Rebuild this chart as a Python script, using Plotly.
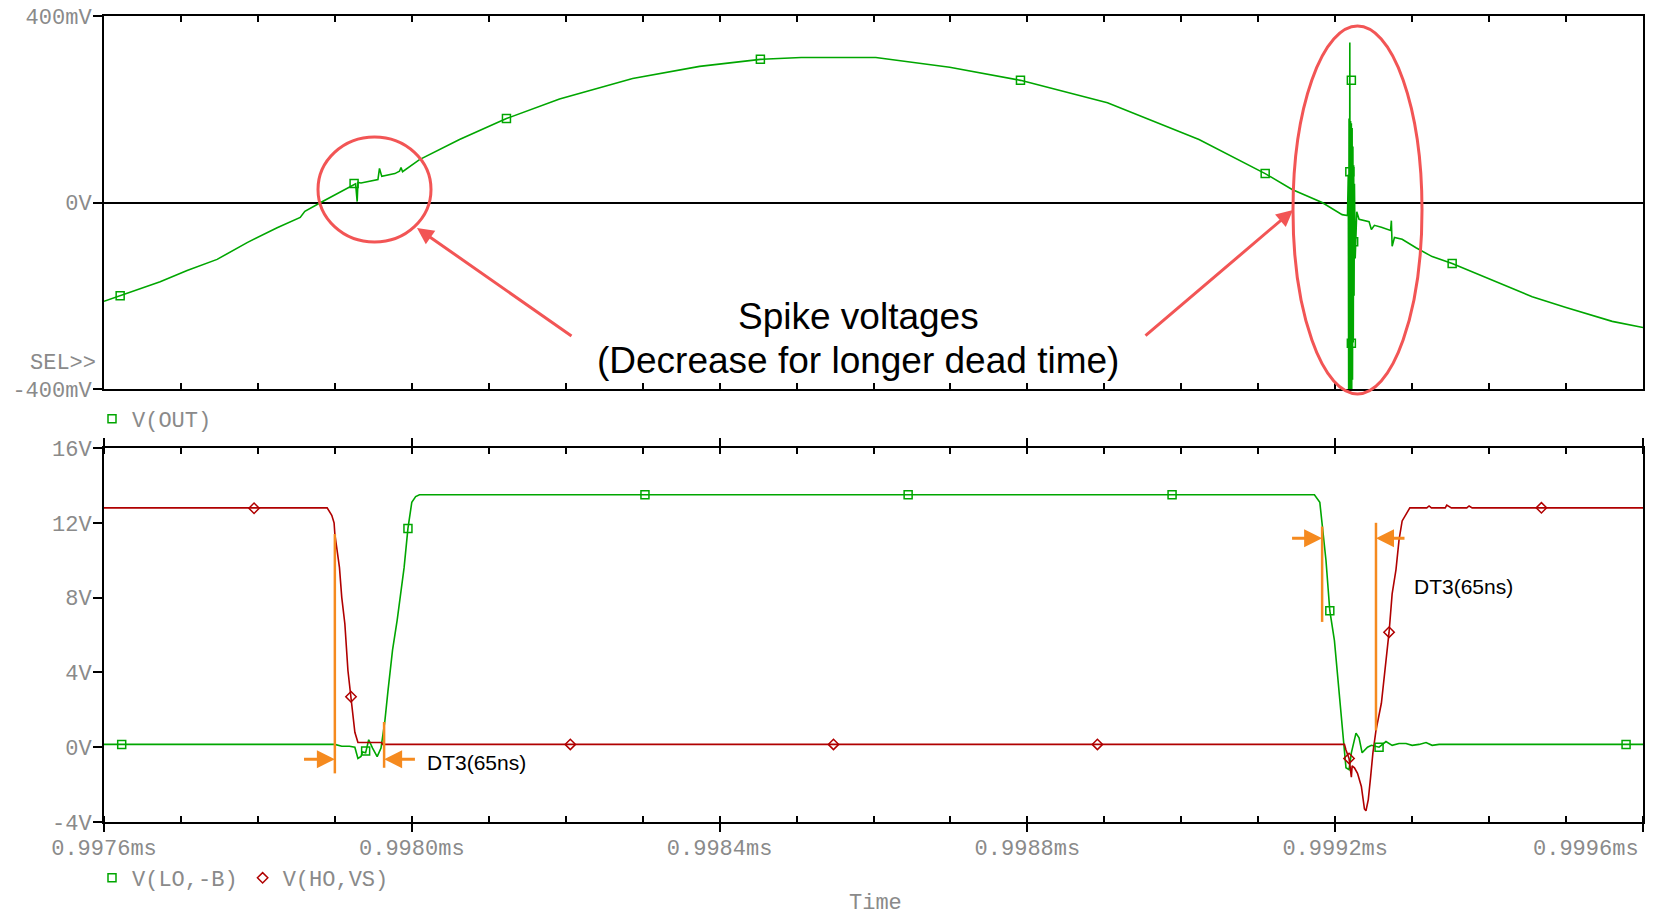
import plotly.graph_objects as go

# ---------------- data (time in ns, absolute) ----------------
out_t = [997600, 997621, 997660, 997673, 997708, 997747, 997786, 997825, 997855, 997861,
         997884, 997906, 997925,
         997927, 997929, 997930, 997934, 997945, 997956, 997958, 997961, 997978, 997984,
         997986, 997988, 998010, 998062, 998123, 998192, 998287, 998374, 998453, 998506,
         998603, 998699, 998791, 998904, 999023, 999066, 999109, 999144, 999183, 999209,
         999216, 999217, 999217.5, 999218, 999218.5, 999219, 999219.5, 999220, 999220.5,
         999221, 999221.5, 999222, 999222.5, 999223, 999223.5, 999224, 999224.5, 999225,
         999226, 999228, 999231, 999244, 999247, 999251, 999260, 999272, 999273, 999274,
         999277, 999287, 999305, 999326, 999352, 999396, 999456, 999500, 999560, 999600]
out_mv = [-212, -200, -178, -170, -146, -122, -86, -54, -32, -19,
          2, 22, 39,
          40, 2, 43, 42, 45, 49, 73, 56, 62, 67,
          75, 66, 92, 135, 180, 222, 266, 292, 307, 311,
          311, 290, 262, 214, 135, 99, 62, 28, 0, -26,
          -28, 60, -400, 180, -400, 343, -400, 175, -400,
          170, -400, 160, -380, 120, -300, 80, -200, 40,
          -120, -20, -36, -41, -58, -49, -53, -60, -39, -94,
          -75, -79, -97, -116, -131, -161, -202, -225, -255, -268]
out_mk_t = [997621, 997925, 998123, 998453, 998791, 999109, 999221, 999219, 999224, 999221, 999352]
out_mk_mv = [-200, 41, 180, 307, 262, 62, 262, 66, -84, -302, -131]

lo_t = [997600, 997900, 997909, 997919, 997926, 997930, 997934, 997936, 997940, 997944,
        997949, 997955, 997960, 997965, 997969, 997975, 997981, 997990, 997995, 998000,
        998005, 998010, 999173, 999180, 999188, 999193, 999199, 999209, 999214, 999218,
        999221, 999227, 999231, 999235, 999242, 999247, 999257, 999266, 999274, 999283,
        999292, 999300, 999309, 999318, 999326, 999335, 999600]
lo_v = [0.15, 0.15, 0.05, 0.05, 0.0, -0.6, -0.5, -0.25, -0.3, 0.4,
        -0.05, -0.5, -0.05, 1.4, 3.0, 5.2, 6.8, 9.6, 11.7, 13.1,
        13.4, 13.5, 13.5, 13.1, 10.0, 7.3, 5.7, 1.4, -1.1, -1.2,
        -0.3, 0.75, 0.5, -0.3, 0.0, 0.1, 0.0, 0.3, 0.1, 0.2,
        0.2, 0.1, 0.15, 0.25, 0.1, 0.15, 0.15]
lo_mk_t = [997623, 997940, 997995, 998303, 998645, 998988, 999193, 999257, 999578]
lo_mk_v = [0.15, -0.2, 11.7, 13.5, 13.5, 13.5, 7.3, 0.0, 0.15]

ho_t = [997600, 997890, 997896, 997899, 997900, 997903, 997906, 997909, 997913, 997917,
        997921, 997926, 997930, 997961, 997962, 999212, 999214, 999218, 999221, 999222,
        999225, 999229, 999234, 999238, 999240, 999243, 999246, 999249, 999253, 999260,
        999270, 999274, 999279, 999283, 999287, 999297, 999319, 999322, 999325, 999343,
        999345, 999351, 999371, 999374, 999378, 999600]
ho_v = [12.8, 12.8, 12.4, 12.0, 11.4, 10.4, 9.6, 8.0, 6.6, 4.1,
        2.7, 0.8, 0.25, 0.25, 0.15, 0.15, -0.15, -0.6, -1.6, -1.0,
        -1.1, -1.4, -2.1, -3.3, -3.4, -2.8, -1.6, -0.3, 0.9, 2.35,
        6.15, 8.2, 9.5, 11.1, 12.1, 12.8, 12.8, 12.9, 12.8, 12.8,
        12.95, 12.8, 12.8, 12.9, 12.8, 12.8]
ho_mk_t = [997795, 997921, 998206, 998548, 998891, 999218, 999270, 999468]
ho_mk_v = [12.78, 2.7, 0.15, 0.15, 0.15, -0.6, 6.15, 12.8]

x_tickvals = [997600, 998000, 998400, 998800, 999200, 999600]
x_ticktext = ["0.9976ms", "0.9980ms", "0.9984ms", "0.9988ms", "0.9992ms", "0.9996ms"]
top_tickvals = [-400, 0, 400]
top_ticktext = ["-400mV", "0V", "400mV"]
bot_tickvals = [-4, 0, 4, 8, 12, 16]
bot_ticktext = ["-4V", "0V", "4V", "8V", "12V", "16V"]

# dead-time markers (ns, V)
dt_left = [997900, 997964]
dt_right = [999183, 999253]

# ---------------- style ----------------
W, H = 1655, 917
GREEN = "#00A600"
RED = "#B00000"
ORANGE = "#F58A1F"
PINK = "#F25555"
GRAY = "#8a8a8a"
MONO = "Liberation Mono"
SANS = "Liberation Sans"


def px(x):
    return x / W


def py(y):
    return 1 - y / H


fig = go.Figure()
fig.add_trace(go.Scatter(x=out_t, y=out_mv, mode="lines", line=dict(color=GREEN, width=1.6),
                         showlegend=False, xaxis="x", yaxis="y", hoverinfo="skip"))
fig.add_trace(go.Scatter(x=out_mk_t, y=out_mk_mv, mode="markers", name="V(OUT)",
                         marker=dict(symbol="square-open", size=8, color=GREEN, line=dict(width=1.5)),
                         xaxis="x", yaxis="y", legend="legend"))
fig.add_trace(go.Scatter(x=lo_t, y=lo_v, mode="lines", line=dict(color=GREEN, width=1.6),
                         showlegend=False, xaxis="x2", yaxis="y2"))
fig.add_trace(go.Scatter(x=ho_t, y=ho_v, mode="lines", line=dict(color=RED, width=1.6),
                         showlegend=False, xaxis="x2", yaxis="y2"))
fig.add_trace(go.Scatter(x=lo_mk_t, y=lo_mk_v, mode="markers", name="V(LO,-B)",
                         marker=dict(symbol="square-open", size=8, color=GREEN, line=dict(width=1.5)),
                         xaxis="x2", yaxis="y2", legend="legend2"))
fig.add_trace(go.Scatter(x=ho_mk_t, y=ho_mk_v, mode="markers", name="V(HO,VS)",
                         marker=dict(symbol="diamond-open", size=8, color=RED, line=dict(width=1.5)),
                         xaxis="x2", yaxis="y2", legend="legend2"))

xdom = [px(104), px(1643)]
tickfont = dict(family=MONO, size=22, color=GRAY)
common_x = dict(domain=xdom, range=[997600, 999600], showline=True, linecolor="black", linewidth=2,
                mirror="ticks", showgrid=False, zeroline=False, tickcolor="black", tickwidth=1.5,
                automargin=False)

fig.update_layout(
    template="none",
    width=W, height=H, margin=dict(l=0, r=0, t=0, b=0, autoexpand=False),
    paper_bgcolor="white", plot_bgcolor="white",
    xaxis=dict(**common_x, anchor="y", ticks="inside", ticklen=6, dtick=100, tick0=997600,
               showticklabels=False),
    yaxis=dict(domain=[py(389), py(16)], range=[-400, 400], anchor="x", showline=True,
               linecolor="black", linewidth=2, mirror=True, showgrid=False, automargin=False,
               zeroline=True, zerolinecolor="black", zerolinewidth=1.5,
               ticks="outside", ticklen=9, tickcolor="black", tickwidth=1.5, ticklabelstandoff=-3,
               tickvals=top_tickvals, ticktext=top_ticktext, tickfont=tickfont),
    xaxis2=dict(**common_x, anchor="y2", ticks="outside", ticklen=8, tickvals=x_tickvals,
                ticktext=x_ticktext[:-1] + [""], tickfont=tickfont, ticklabelstandoff=-3,
                minor=dict(ticks="inside", ticklen=6, dtick=100, tick0=997600,
                           tickcolor="black", tickwidth=1.5, showgrid=False)),
    yaxis2=dict(domain=[py(822), py(448)], range=[-4, 16], anchor="x2", showline=True,
                linecolor="black", linewidth=2, mirror=True, showgrid=False, zeroline=False,
                automargin=False, ticklabelstandoff=-3,
                ticks="outside", ticklen=9, tickcolor="black", tickwidth=1.5,
                tickvals=bot_tickvals, ticktext=bot_ticktext, tickfont=tickfont),
    legend=dict(x=px(92), y=py(419), xanchor="left", yanchor="middle", orientation="h",
                font=dict(family=MONO, size=22, color=GRAY), bgcolor="rgba(0,0,0,0)"),
    legend2=dict(x=px(92), y=py(878), xanchor="left", yanchor="middle", orientation="h",
                 font=dict(family=MONO, size=22, color=GRAY), bgcolor="rgba(0,0,0,0)"),
)

shapes = [
    dict(type="circle", xref="paper", yref="paper", x0=px(318), x1=px(431), y0=py(242), y1=py(137),
         line=dict(color=PINK, width=3)),
    dict(type="circle", xref="paper", yref="paper", x0=px(1293), x1=px(1422), y0=py(394), y1=py(26),
         line=dict(color=PINK, width=3)),
    dict(type="line", xref="x2", yref="y2", x0=dt_left[0], x1=dt_left[0], y0=11.4, y1=-1.4,
         line=dict(color=ORANGE, width=2.5)),
    dict(type="line", xref="x2", yref="y2", x0=dt_left[1], x1=dt_left[1], y0=1.35, y1=-1.1,
         line=dict(color=ORANGE, width=2.5)),
    dict(type="line", xref="x2", yref="y2", x0=dt_right[0], x1=dt_right[0], y0=11.8, y1=6.7,
         line=dict(color=ORANGE, width=2.5)),
    dict(type="line", xref="x2", yref="y2", x0=dt_right[1], x1=dt_right[1], y0=12.0, y1=0.9,
         line=dict(color=ORANGE, width=2.5)),
]
fig.update_layout(shapes=shapes)

ann = []
# red arrows
for (tx, ty, hx, hy) in [(573, 337, 417, 228), (1144, 337, 1293, 210)]:
    ann.append(dict(x=px(hx), y=py(hy), ax=tx - hx, ay=ty - hy, xref="paper", yref="paper",
                    axref="pixel", ayref="pixel", text="", showarrow=True, arrowhead=2,
                    arrowsize=1.1, arrowwidth=3, arrowcolor=PINK, standoff=0))
# orange arrows (data coords)
for (tail, tip, yv) in [(997858, dt_left[0], -0.64), (998006, dt_left[1], -0.64),
                        (999142, dt_right[0], 11.18), (999292, dt_right[1], 11.18)]:
    ann.append(dict(x=tip, y=yv, ax=tail, ay=yv, xref="x2", yref="y2", axref="x2", ayref="y2",
                    text="", showarrow=True, arrowhead=2, arrowsize=1.2, arrowwidth=3,
                    arrowcolor=ORANGE, standoff=0))
ann += [
    dict(x=px(858), y=py(316), xref="paper", yref="paper", text="Spike voltages", showarrow=False,
         font=dict(family=SANS, size=37, color="black"), xanchor="center", yanchor="middle"),
    dict(x=px(858), y=py(360), xref="paper", yref="paper", text="(Decrease for longer dead time)",
         showarrow=False, font=dict(family=SANS, size=37, color="black"),
         xanchor="center", yanchor="middle"),
    dict(x=px(476), y=py(762), xref="paper", yref="paper", text="DT3(65ns)", showarrow=False,
         font=dict(family=SANS, size=21, color="black"), xanchor="center", yanchor="middle"),
    dict(x=px(1463), y=py(586), xref="paper", yref="paper", text="DT3(65ns)", showarrow=False,
         font=dict(family=SANS, size=21, color="black"), xanchor="center", yanchor="middle"),
    dict(x=px(98), y=py(363), xref="paper", yref="paper", text="SEL>>", showarrow=False,
         font=dict(family=MONO, size=22, color=GRAY), xanchor="right", yanchor="middle"),
    dict(x=px(1641), y=py(849), xref="paper", yref="paper", text=x_ticktext[-1], showarrow=False,
         font=tickfont, xanchor="right", yanchor="middle"),
    dict(x=px(875), y=py(903), xref="paper", yref="paper", text="Time", showarrow=False,
         font=dict(family=MONO, size=22, color=GRAY), xanchor="center", yanchor="middle"),
]
fig.update_layout(annotations=ann)

fig.write_html("out.html", config={"displayModeBar": False},
               post_script="document.body.style.margin='0';document.body.style.overflow='hidden';")
